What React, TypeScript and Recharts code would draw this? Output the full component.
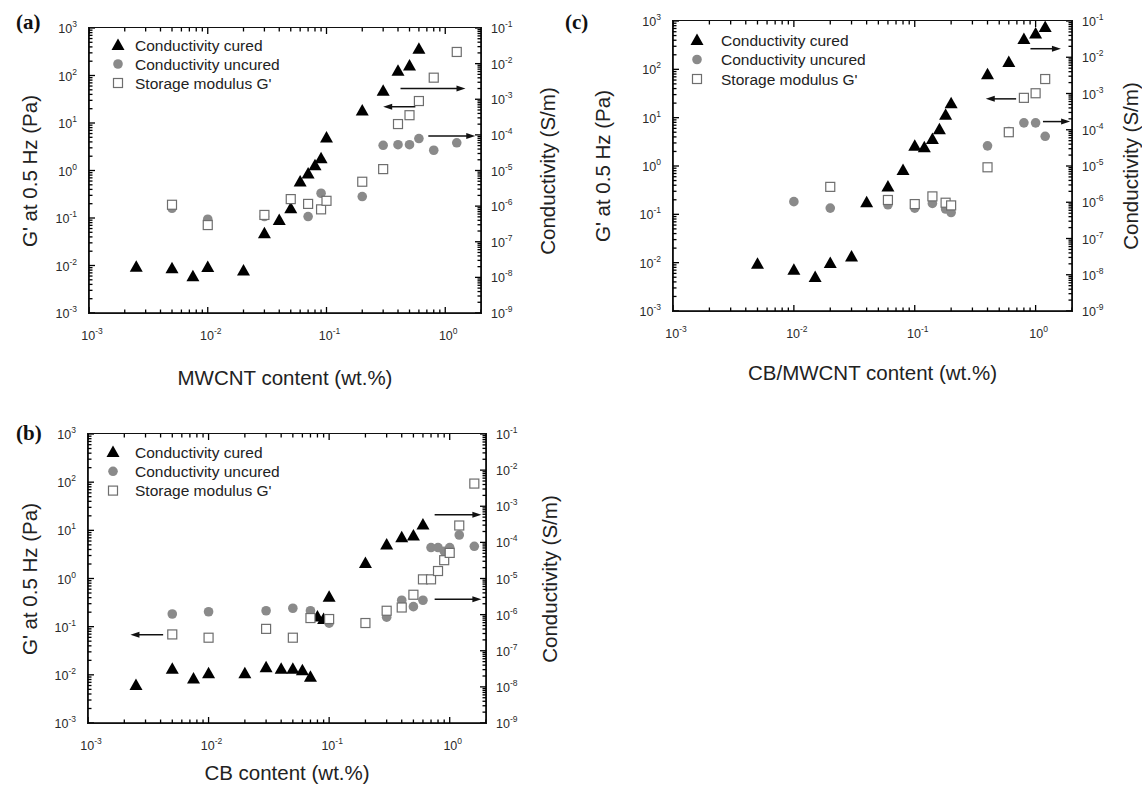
import { ScatterChart, Scatter, XAxis, YAxis, Legend, ReferenceLine } from "recharts";

const SANS = "'Liberation Sans', Arial, Helvetica, sans-serif";
const SERIF = "'Liberation Serif', 'Times New Roman', serif";
const INK = "black";
const GREY = "#8a8a8a";

// ---- panel (a): MWCNT ----  [wt.%, value]
const mwcntCured = [
  [0.0025, 2.0e-8], [0.005, 1.8e-8], [0.0075, 1.07e-8], [0.01, 1.95e-8], [0.02, 1.55e-8],
  [0.03, 1.74e-7], [0.04, 4.1e-7], [0.05, 8.7e-7], [0.06, 4.9e-6], [0.07, 8.3e-6],
  [0.08, 1.41e-5], [0.09, 2.2e-5], [0.1, 8.5e-5], [0.2, 4.8e-4], [0.3, 1.74e-3],
  [0.4, 6.3e-3], [0.5, 8.9e-3], [0.6, 2.6e-2],
];
const mwcntUncured = [
  [0.005, 8.7e-7], [0.01, 4.3e-7], [0.03, 5.1e-7], [0.07, 5.1e-7], [0.09, 2.3e-6],
  [0.2, 1.86e-6], [0.3, 5.1e-5], [0.4, 5.3e-5], [0.5, 5.3e-5], [0.6, 7.9e-5],
  [0.8, 3.7e-5], [1.25, 6.0e-5],
];
const mwcntModulus = [
  [0.005, 0.19], [0.01, 0.071], [0.03, 0.116], [0.05, 0.25], [0.07, 0.198],
  [0.09, 0.152], [0.1, 0.23], [0.2, 0.58], [0.3, 1.07], [0.4, 9.5], [0.5, 14.6],
  [0.6, 29], [0.8, 90], [1.25, 313],
];
const mwcntArrows = [
  { from: 0.42, to: 1.48, y: 53 },
  { from: 0.56, to: 0.3, y: 22 },
  { from: 0.72, to: 1.79, y: 5.3 },
];

// ---- panel (b): CB ----
const cbCured = [
  [0.0025, 1.12e-8], [0.005, 3.2e-8], [0.0075, 1.7e-8], [0.01, 2.4e-8], [0.02, 2.4e-8],
  [0.03, 3.5e-8], [0.04, 3.2e-8], [0.05, 3.2e-8], [0.06, 2.9e-8], [0.07, 1.9e-8],
  [0.08, 8.9e-7], [0.09, 7.6e-7], [0.1, 3.1e-6], [0.2, 2.7e-5], [0.3, 8.7e-5],
  [0.4, 1.38e-4], [0.5, 1.55e-4], [0.6, 3.1e-4],
];
const cbUncured = [
  [0.005, 1.04e-6], [0.01, 1.2e-6], [0.03, 1.28e-6], [0.05, 1.5e-6], [0.07, 1.28e-6],
  [0.1, 5.8e-7], [0.3, 8.5e-7], [0.4, 2.5e-6], [0.5, 1.66e-6], [0.6, 2.5e-6],
  [0.7, 7.2e-5], [0.8, 7.2e-5], [0.9, 5.7e-5], [1.0, 7.2e-5], [1.2, 1.6e-4], [1.6, 7.8e-5],
];
const cbModulus = [
  [0.005, 0.069], [0.01, 0.059], [0.03, 0.09], [0.05, 0.059], [0.07, 0.151],
  [0.1, 0.144], [0.2, 0.119], [0.3, 0.214], [0.4, 0.25], [0.5, 0.46], [0.6, 0.96],
  [0.7, 0.96], [0.8, 1.43], [0.9, 2.4], [1.0, 3.4], [1.2, 12.6], [1.6, 93.5],
];
const cbArrows = [
  { from: 0.75, to: 1.83, y: 21 },
  { from: 0.75, to: 1.83, y: 0.37 },
  { from: 0.0042, to: 0.00225, y: 0.068 },
];

// ---- panel (c): CB/MWCNT ----
const hybridCured = [
  [0.005, 2.0e-8], [0.01, 1.38e-8], [0.015, 8.7e-9], [0.02, 2.1e-8], [0.03, 3.2e-8],
  [0.04, 1.0e-6], [0.06, 2.7e-6], [0.08, 7.7e-6], [0.1, 3.6e-5], [0.12, 3.3e-5],
  [0.14, 5.6e-5], [0.16, 1.04e-4], [0.18, 2.6e-4], [0.2, 5.4e-4], [0.4, 3.4e-3],
  [0.6, 7.4e-3], [0.8, 3.2e-2], [1.0, 4.5e-2], [1.2, 6.8e-2],
];
const hybridUncured = [
  [0.01, 1.04e-6], [0.02, 6.9e-7], [0.06, 8.5e-7], [0.1, 6.9e-7], [0.14, 9.3e-7],
  [0.18, 6.5e-7], [0.2, 5.2e-7], [0.4, 3.6e-5], [0.6, 8.9e-5], [0.8, 1.55e-4],
  [1.0, 1.55e-4], [1.2, 6.6e-5],
];
const hybridModulus = [
  [0.02, 0.37], [0.06, 0.198], [0.1, 0.163], [0.14, 0.235], [0.18, 0.174],
  [0.2, 0.153], [0.4, 0.94], [0.6, 5.0], [0.8, 25.7], [1.0, 32], [1.2, 63],
];
const hybridArrows = [
  { from: 0.906, to: 1.62, y: 267 },
  { from: 0.69, to: 0.387, y: 24.5 },
  { from: 1.15, to: 1.93, y: 8.3 },
];

// axes
const xDomain = [0.001, 2];
const gDomain = [0.001, 1000];
const sDomain = [1e-9, 0.1];
const xMajor = [0.001, 0.01, 0.1, 1];
const gMajor = [0.001, 0.01, 0.1, 1, 10, 100, 1000];
const sMajor = [1e-9, 1e-8, 1e-7, 1e-6, 1e-5, 1e-4, 1e-3, 1e-2, 1e-1];
const legendNames = ["Conductivity cured", "Conductivity uncured", "Storage modulus G'"];
const gTitle = "G' at 0.5 Hz (Pa)";
const sTitle = "Conductivity (S/m)";

const withMinor = (majors: number[], max: number) => {
  const out: number[] = [];
  majors.forEach((m) => {
    for (let k = 1; k <= 9; k++) if (k * m <= max * 1.0001) out.push(k * m);
  });
  return out;
};
const xTicks = withMinor(xMajor, xDomain[1]);
const gTicks = withMinor(gMajor, gDomain[1]);
const sTicks = withMinor(sMajor, sDomain[1]);

const isMajor = (v: number) => {
  const l = Math.log10(v);
  return Math.abs(l - Math.round(l)) < 1e-6;
};
const pts = (rows: number[][]) => rows.map(([x, y]) => ({ x, y }));

// tick marks are thin filled bars
const T = 1.3;
const MAJ = 6;
const MIN = 3.5;

const Pow10 = ({ x, y, v, anchor }: any) => (
  <text x={x} y={y} textAnchor={anchor} fontFamily={SANS} fontSize={12.5} fill="#2a2a2a">
    10<tspan dy={-6} fontSize={8.5}>{Math.round(Math.log10(v))}</tspan>
  </text>
);

const BottomTick = (p: any) => {
  const major = isMajor(p.payload.value);
  const len = major ? MAJ : MIN;
  return (
    <g>
      <rect x={p.x - T / 2} y={p.y - len} width={T} height={len} fill={INK} />
      {major && <Pow10 x={p.x + 3} y={p.y + 27} v={p.payload.value} anchor="middle" />}
    </g>
  );
};
const LeftTick = (p: any) => {
  const major = isMajor(p.payload.value);
  const len = major ? MAJ : MIN;
  return (
    <g>
      <rect x={p.x} y={p.y - T / 2} width={len} height={T} fill={INK} />
      {major && <Pow10 x={p.x - 12} y={p.y + 5} v={p.payload.value} anchor="end" />}
    </g>
  );
};
const RightTick = (p: any) => {
  const major = isMajor(p.payload.value);
  const len = major ? MAJ : MIN;
  return (
    <g>
      <rect x={p.x - len} y={p.y - T / 2} width={len} height={T} fill={INK} />
      {major && <Pow10 x={p.x + 10} y={p.y + 5} v={p.payload.value} anchor="start" />}
    </g>
  );
};
// tick marks along the top border, from a vertical reference line
const topTickShape = (len: number) => (p: any) => {
  const y = Math.min(p.y1, p.y2);
  return <rect x={p.x1 - T / 2} y={y} width={T} height={len} fill={INK} />;
};
const TopMajor = topTickShape(MAJ);
const TopMinor = topTickShape(MIN);

const Triangle = ({ cx, cy }: any) => (
  <polygon points={`${cx},${cy - 6.5} ${cx - 6.5},${cy + 5} ${cx + 6.5},${cy + 5}`} fill="#000" />
);
const Disc = ({ cx, cy }: any) => <circle cx={cx} cy={cy} r={4.8} fill={GREY} />;
const Box = ({ cx, cy }: any) => (
  <rect x={cx - 4.5} y={cy - 4.5} width={9} height={9} fill="#fff" stroke="#6e6e6e" strokeWidth={1.2} />
);

const ArrowShape = (p: any) => {
  const dir = Math.sign(p.x2 - p.x1);
  return (
    <g>
      <line x1={p.x1} y1={p.y1} x2={p.x2 - dir * 6} y2={p.y2} stroke="#111" strokeWidth={1.5} />
      <polygon
        points={`${p.x2},${p.y2} ${p.x2 - dir * 9},${p.y2 - 3} ${p.x2 - dir * 9},${p.y2 + 3}`}
        fill="#111"
      />
    </g>
  );
};

const W = 560;
const H = 400;
const LEFT_W = 60;
const RIGHT_W = 70;
const BOTTOM_H = 60;
const axisLine = { stroke: INK, strokeWidth: 1.6 };

const titleStyle = (cx: number, cy: number, rotate: boolean) => ({
  position: "absolute" as const,
  left: cx,
  top: cy,
  transform: `translate(-50%, -50%)${rotate ? " rotate(-90deg)" : ""}`,
  whiteSpace: "nowrap" as const,
  fontFamily: SANS,
  fontSize: 20.5,
  lineHeight: "22px",
  color: "#222",
});

function Panel({ left, top, plot, xTitle, cured, uncured, modulus, arrows, gaps, leg }: any) {
  const midY = plot.y + plot.h / 2;
  const markers = [Triangle, Disc, Box];
  return (
    <div style={{ position: "absolute", left, top, width: W, height: H }}>
      <ScatterChart
        width={W}
        height={H}
        margin={{
          top: plot.y,
          left: plot.x - LEFT_W,
          right: W - plot.x - plot.w - RIGHT_W,
          bottom: H - plot.y - plot.h - BOTTOM_H,
        }}
      >
        <XAxis
          dataKey="x" type="number" scale="log" domain={xDomain} allowDataOverflow
          ticks={xTicks} interval={0} height={BOTTOM_H} tickSize={0} tickMargin={0}
          tickLine={false} axisLine={axisLine} tick={BottomTick}
        />
        <YAxis
          yAxisId="G" dataKey="y" type="number" scale="log" domain={gDomain} allowDataOverflow
          ticks={gTicks} interval={0} width={LEFT_W} tickSize={0} tickMargin={0}
          tickLine={false} axisLine={axisLine} tick={LeftTick}
        />
        <YAxis
          yAxisId="S" orientation="right" dataKey="y" type="number" scale="log" domain={sDomain}
          allowDataOverflow ticks={sTicks} interval={0} width={RIGHT_W} tickSize={0} tickMargin={0}
          tickLine={false} axisLine={axisLine} tick={RightTick}
        />
        {xTicks.filter((t) => t < xDomain[1] * 0.999).map((t) => (
          <ReferenceLine key={`t${t}`} yAxisId="G" x={t} shape={isMajor(t) ? TopMajor : TopMinor} />
        ))}
        <Legend
          layout="vertical" align="center" verticalAlign="middle"
          wrapperStyle={{ left: plot.x + leg.dx - 8, top: plot.y + leg.dy - 8, width: 260, height: 60 }}
          content={() => (
            <svg width={260} height={60}>
              {legendNames.map((name, i) => {
                const M = markers[i];
                const cy = 8 + i * leg.row;
                return (
                  <g key={name}>
                    <M cx={8} cy={cy} />
                    <text x={8 + leg.text - leg.dx} y={cy + 5.5} fontFamily={SANS} fontSize={15.5} fill="#222">
                      {name}
                    </text>
                  </g>
                );
              })}
            </svg>
          )}
        />
        {arrows.map((a: any, i: number) => (
          <ReferenceLine
            key={i}
            yAxisId="G"
            segment={[{ x: a.from, y: a.y }, { x: a.to, y: a.y }]}
            shape={ArrowShape}
          />
        ))}
        <Scatter yAxisId="S" data={pts(cured)} shape={Triangle} isAnimationActive={false} />
        <Scatter yAxisId="S" data={pts(uncured)} shape={Disc} isAnimationActive={false} />
        <Scatter yAxisId="G" data={pts(modulus)} shape={Box} isAnimationActive={false} />
      </ScatterChart>
      <div
        style={{
          position: "absolute", left: plot.x - 0.9, top: plot.y - 0.9, width: plot.w + 1.8, height: plot.h + 1.8,
          boxSizing: "border-box", border: "1.8px solid #111", pointerEvents: "none",
        }}
      />
      <div style={titleStyle(plot.x + plot.w / 2, plot.y + plot.h + gaps.bottom, false)}>{xTitle}</div>
      <div style={titleStyle(plot.x - gaps.left, midY, true)}>{gTitle}</div>
      <div style={titleStyle(plot.x + plot.w + gaps.right, midY, true)}>{sTitle}</div>
    </div>
  );
}

const tagStyle = (left: number, top: number) => ({
  position: "absolute" as const, left, top, fontFamily: SERIF, fontWeight: 700, fontSize: 21, lineHeight: "24px", color: "#111",
});

export default function App() {
  return (
    <div style={{ position: "absolute", left: 0, top: 0, width: 1142, height: 787, background: "#fff", overflow: "hidden" }}>
      <Panel
        left={0} top={0} plot={{ x: 89, y: 28, w: 392, h: 285 }}
        xTitle="MWCNT content (wt.%)" cured={mwcntCured} uncured={mwcntUncured}
        modulus={mwcntModulus} arrows={mwcntArrows}
        gaps={{ left: 59, right: 67, bottom: 65 }} leg={{ dx: 29, dy: 17, text: 46, row: 19 }}
      />
      <Panel
        left={0} top={406} plot={{ x: 88, y: 28, w: 398, h: 289 }}
        xTitle="CB content (wt.%)" cured={cbCured} uncured={cbUncured}
        modulus={cbModulus} arrows={cbArrows}
        gaps={{ left: 58, right: 64, bottom: 50 }} leg={{ dx: 25, dy: 18, text: 47, row: 19.3 }}
      />
      <Panel
        left={584} top={0} plot={{ x: 89, y: 21, w: 399, h: 290 }}
        xTitle="CB/MWCNT content (wt.%)" cured={hybridCured} uncured={hybridUncured}
        modulus={hybridModulus} arrows={hybridArrows}
        gaps={{ left: 70, right: 59, bottom: 62 }} leg={{ dx: 24, dy: 19, text: 48, row: 19.5 }}
      />
      <div style={tagStyle(16, 10)}>(a)</div>
      <div style={tagStyle(16, 421)}>(b)</div>
      <div style={tagStyle(565, 10)}>(c)</div>
    </div>
  );
}
